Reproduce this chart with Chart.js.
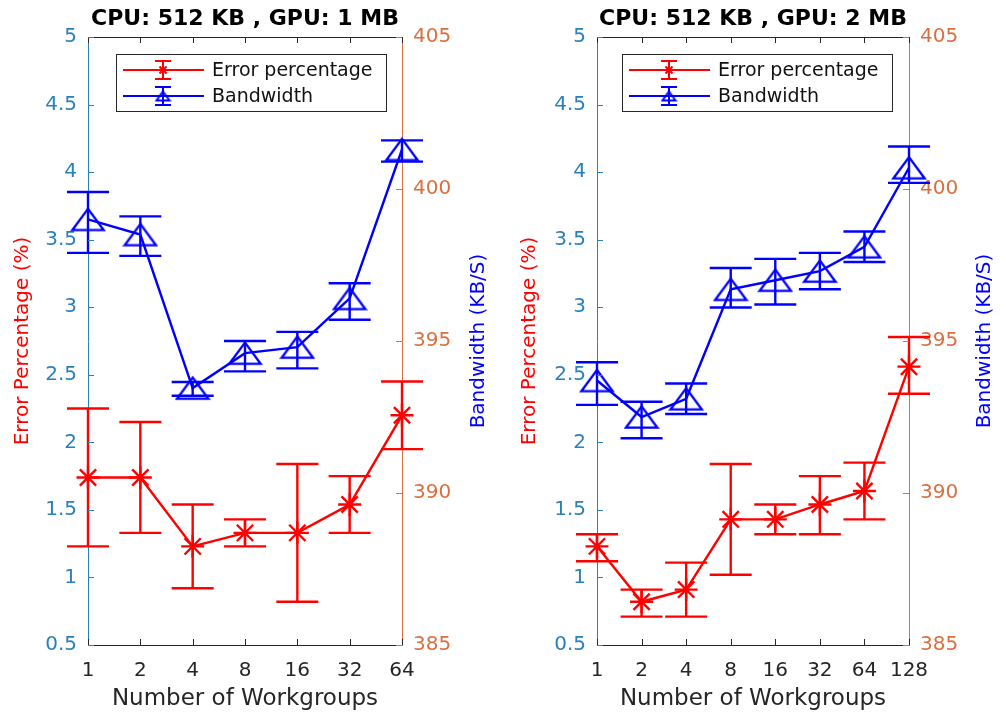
<!DOCTYPE html>
<html>
<head>
<meta charset="utf-8">
<script src="https://cdn.jsdelivr.net/npm/chart.js@4.4.0/dist/chart.umd.min.js"></script>
<style>
  body { margin: 0; background: #fff; }
  .plot { position: absolute; top: 0; width: 503px; height: 717px; }
</style>
</head>
<body>
<div class="plot" style="left:0"><canvas id="chart1" width="503" height="717"></canvas></div>
<div class="plot" style="left:503px"><canvas id="chart2" width="503" height="717"></canvas></div>
<script>
// values
const workgroups1 = ['1', '2', '4', '8', '16', '32', '64'];
const err1 = [1.74, 1.74, 1.23, 1.33, 1.33, 1.54, 2.2];
const err1Low = [1.23, 1.33, 0.92, 1.23, 0.82, 1.33, 1.95];
const err1High = [2.25, 2.15, 1.54, 1.43, 1.84, 1.75, 2.45];
const bw1 = [399.0, 398.5, 393.45, 394.6, 394.8, 396.4, 401.3];
const bw1Low = [397.9, 397.8, 393.2, 394.0, 394.1, 395.7, 400.9];
const bw1High = [399.9, 399.1, 393.65, 395.0, 395.3, 396.9, 401.6];

const workgroups2 = ['1', '2', '4', '8', '16', '32', '64', '128'];
const err2 = [1.23, 0.82, 0.91, 1.43, 1.43, 1.54, 1.64, 2.56];
const err2Low = [1.12, 0.71, 0.71, 1.02, 1.32, 1.32, 1.43, 2.36];
const err2High = [1.32, 0.91, 1.11, 1.84, 1.54, 1.75, 1.85, 2.78];
const bw2 = [393.7, 392.5, 393.1, 396.7, 397.0, 397.3, 398.1, 400.7];
const bw2Low = [392.9, 391.8, 392.6, 396.1, 396.2, 396.7, 397.6, 400.2];
const bw2High = [394.3, 393.0, 393.6, 397.4, 397.7, 397.9, 398.6, 401.4];

const RED = '#ff0000';
const BLUE = '#0000ff';
const LEFT_AXIS = '#2a80bb';
const RIGHT_AXIS = '#d9703f';
const DARK = '#262626';
const FONT = "'DejaVu Sans', sans-serif";
const LW = 2.4;

Chart.defaults.font.family = FONT;
Chart.defaults.color = DARK;

function makeTriangle(w, h, lw) {
  const c = document.createElement('canvas');
  c.width = w;
  c.height = h;
  const ctx = c.getContext('2d');
  ctx.strokeStyle = BLUE;
  ctx.lineWidth = lw;
  ctx.beginPath();
  ctx.moveTo(w / 2, lw);
  ctx.lineTo(w - lw, h - lw);
  ctx.lineTo(lw, h - lw);
  ctx.closePath();
  ctx.stroke();
  return c;
}
const bigTriangle = makeTriangle(36, 26, LW);
const smallTriangle = makeTriangle(17, 13, 2);

function line(ctx, x1, y1, x2, y2) {
  ctx.beginPath();
  ctx.moveTo(x1, y1);
  ctx.lineTo(x2, y2);
  ctx.stroke();
}

function drawStar(ctx, x, y, r) {
  const d = r * Math.SQRT1_2;
  line(ctx, x - r, y, x + r, y);
  line(ctx, x, y - r, x, y + r);
  line(ctx, x - d, y - d, x + d, y + d);
  line(ctx, x - d, y + d, x + d, y - d);
}

const decorPlugin = {
  id: 'decor',
  afterDatasetsDraw(chart) {
    const ctx = chart.ctx;
    chart.data.datasets.forEach((ds, i) => {
      const meta = chart.getDatasetMeta(i);
      const yScale = chart.scales[ds.yAxisID];
      ctx.save();
      ctx.strokeStyle = ds.borderColor;
      ctx.lineWidth = LW;
      meta.data.forEach((pt, j) => {
        const x = pt.x;
        const yl = yScale.getPixelForValue(ds.errLow[j]);
        const yh = yScale.getPixelForValue(ds.errHigh[j]);
        line(ctx, x, yl, x, yh);
        line(ctx, x - 21, yl, x + 21, yl);
        line(ctx, x - 21, yh, x + 21, yh);
      });
      ctx.restore();
    });
  },
  afterDraw(chart, args, opts) {
    const ctx = chart.ctx;
    const ca = chart.chartArea;
    const xs = chart.scales.x;
    const yl = chart.scales.y;
    const yr = chart.scales.y1;
    const midX = (ca.left + ca.right) / 2;
    const midY = (ca.top + ca.bottom) / 2;
    ctx.save();

    // box top line and inner ticks
    ctx.lineWidth = 1;
    ctx.strokeStyle = DARK;
    line(ctx, ca.left, ca.top + 0.5, ca.right, ca.top + 0.5);
    xs.ticks.forEach((t, i) => {
      const x = Math.round(xs.getPixelForTick(i)) + 0.5;
      line(ctx, x, ca.bottom, x, ca.bottom - 6);
      line(ctx, x, ca.top, x, ca.top + 6);
    });
    ctx.strokeStyle = LEFT_AXIS;
    yl.ticks.forEach((t) => {
      const y = Math.round(yl.getPixelForValue(t.value)) + 0.5;
      line(ctx, ca.left, y, ca.left + 6, y);
    });
    ctx.strokeStyle = RIGHT_AXIS;
    yr.ticks.forEach((t) => {
      const y = Math.round(yr.getPixelForValue(t.value)) + 0.5;
      line(ctx, ca.right, y, ca.right - 6, y);
    });

    // titles
    ctx.textAlign = 'center';
    ctx.textBaseline = 'middle';
    ctx.fillStyle = '#000';
    ctx.font = 'bold 22px ' + FONT;
    ctx.fillText(opts.title, midX, 19);

    ctx.fillStyle = DARK;
    ctx.font = '23px ' + FONT;
    ctx.fillText('Number of Workgroups', midX, 699);

    ctx.font = '20px ' + FONT;
    ctx.save();
    ctx.translate(ca.left - opts.leftTitleGap, midY);
    ctx.rotate(-Math.PI / 2);
    ctx.fillStyle = RED;
    ctx.fillText('Error Percentage (%)', 0, 0);
    ctx.restore();
    ctx.save();
    ctx.translate(ca.right + opts.rightTitleGap, midY);
    ctx.rotate(-Math.PI / 2);
    ctx.fillStyle = BLUE;
    ctx.fillText('Bandwidth (KB/S)', 0, 0);
    ctx.restore();

    // legend
    const lx = opts.legendLeft;
    const ly = 54;
    ctx.fillStyle = '#fff';
    ctx.fillRect(lx, ly, 270, 57);
    ctx.strokeStyle = DARK;
    ctx.lineWidth = 1;
    ctx.strokeRect(lx + 0.5, ly + 0.5, 270, 57);
    ctx.font = '19px ' + FONT;
    ctx.textAlign = 'left';
    chart.data.datasets.forEach((ds, i) => {
      const y = ly + 16 + i * 26;
      const mx = lx + 47;
      ctx.strokeStyle = ds.borderColor;
      ctx.lineWidth = 2;
      line(ctx, lx + 7, y, lx + 88, y);
      line(ctx, mx, y - 9, mx, y + 9);
      line(ctx, mx - 8, y - 9, mx + 8, y - 9);
      line(ctx, mx - 8, y + 9, mx + 8, y + 9);
      if (ds.pointStyle === 'star') {
        drawStar(ctx, mx, y, 5);
      } else {
        ctx.drawImage(smallTriangle, mx - smallTriangle.width / 2, y - smallTriangle.height / 2);
      }
      ctx.fillStyle = '#111';
      ctx.fillText(ds.label, lx + 96, y + 1);
    });
    ctx.restore();
  },
};

function makeChart(id, labels, errData, errLow, errHigh, bwData, bwLow, bwHigh, layout) {
  return new Chart(document.getElementById(id), {
    type: 'line',
    data: {
      labels: labels,
      datasets: [
        {
          label: 'Error percentage',
          data: errData,
          errLow: errLow,
          errHigh: errHigh,
          yAxisID: 'y',
          borderColor: RED,
          backgroundColor: RED,
          borderWidth: LW,
          pointStyle: 'star',
          pointRadius: 11.5,
          pointBorderWidth: LW,
          tension: 0,
          clip: false,
        },
        {
          label: 'Bandwidth',
          data: bwData,
          errLow: bwLow,
          errHigh: bwHigh,
          yAxisID: 'y1',
          borderColor: BLUE,
          backgroundColor: BLUE,
          borderWidth: LW,
          pointStyle: bigTriangle,
          pointRadius: 12,
          tension: 0,
          clip: false,
        },
      ],
    },
    options: {
      responsive: false,
      animation: false,
      events: [],
      layout: { padding: { top: 37, left: 0, right: 0, bottom: 0 } },
      scales: {
        x: {
          offset: false,
          grid: { display: false, drawTicks: false },
          border: { display: true, color: DARK, width: 1 },
          ticks: { color: DARK, font: { size: 20 }, padding: 14, autoSkip: false, maxRotation: 0 },
          afterFit: (scale) => { scale.height = 72; },
        },
        y: {
          position: 'left',
          min: 0.5,
          max: 5,
          grid: { display: false, drawTicks: false },
          border: { display: true, color: LEFT_AXIS, width: 1 },
          ticks: { stepSize: 0.5, color: LEFT_AXIS, font: { size: 20 }, padding: 11, callback: (v) => String(+v) },
          afterFit: (scale) => { scale.width = layout.leftWidth; },
        },
        y1: {
          position: 'right',
          min: 385,
          max: 405,
          grid: { display: false, drawTicks: false },
          border: { display: true, color: RIGHT_AXIS, width: 1 },
          ticks: { stepSize: 5, color: RIGHT_AXIS, font: { size: 20 }, padding: 11, callback: (v) => String(+v) },
          afterFit: (scale) => { scale.width = layout.rightWidth; },
        },
      },
      plugins: {
        legend: { display: false },
        title: { display: false },
        tooltip: { enabled: false },
        decor: {
          title: layout.title,
          leftTitleGap: layout.leftTitleGap,
          rightTitleGap: layout.rightTitleGap,
          legendLeft: layout.legendLeft,
        },
      },
    },
    plugins: [decorPlugin],
  });
}

makeChart('chart1', workgroups1, err1, err1Low, err1High, bw1, bw1Low, bw1High, {
  title: 'CPU: 512 KB , GPU: 1 MB', leftWidth: 88, rightWidth: 101, leftTitleGap: 65, rightTitleGap: 77, legendLeft: 116,
});
makeChart('chart2', workgroups2, err2, err2Low, err2High, bw2, bw2Low, bw2High, {
  title: 'CPU: 512 KB , GPU: 2 MB', leftWidth: 94, rightWidth: 97, leftTitleGap: 67, rightTitleGap: 76, legendLeft: 119,
});
</script>
</body>
</html>
